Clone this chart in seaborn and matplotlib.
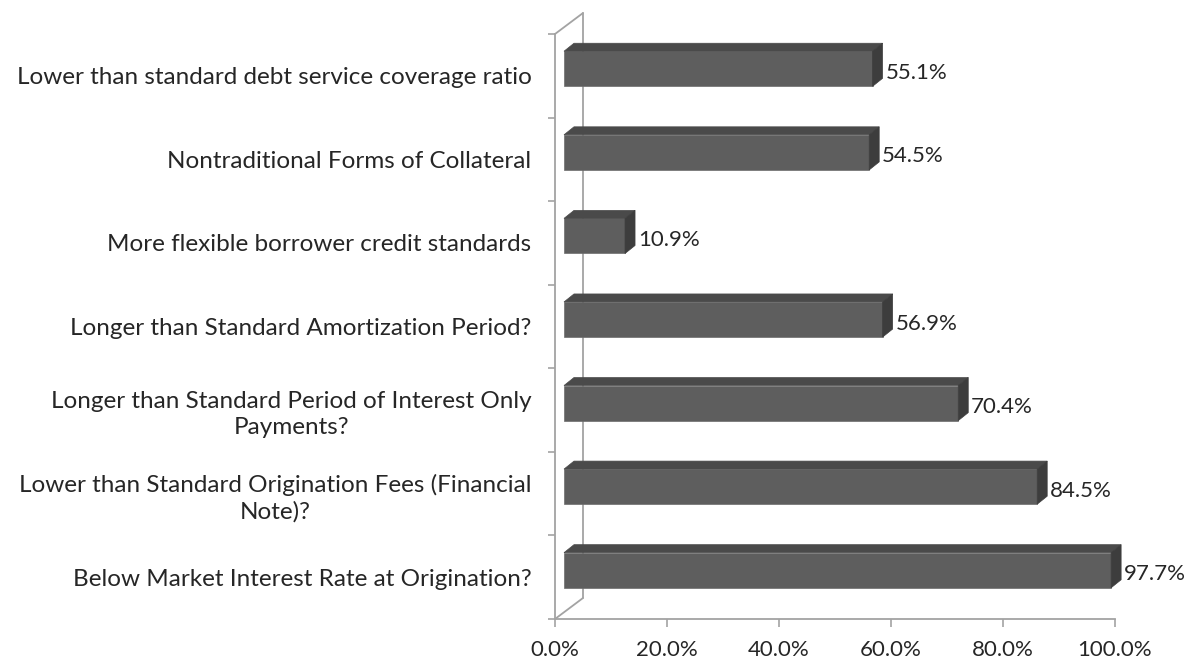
import numpy as np
import matplotlib
matplotlib.use("Agg")
import matplotlib.pyplot as plt
from matplotlib.patches import Polygon
from matplotlib.lines import Line2D
import seaborn as sns

# Survey responses: share of lenders offering each concession
categories = [
    "Lower than standard debt service coverage ratio",
    "Nontraditional Forms of Collateral",
    "More flexible borrower credit standards",
    "Longer than Standard Amortization Period?",
    "Longer than Standard Period of Interest Only\nPayments?",
    "Lower than Standard Origination Fees (Financial\nNote)?",
    "Below Market Interest Rate at Origination?",
]
values = [55.1, 54.5, 10.9, 56.9, 70.4, 84.5, 97.7]
x_ticks = [0, 20, 40, 60, 80, 100]
x_tick_labels = ["0.0%", "20.0%", "40.0%", "60.0%", "80.0%", "100.0%"]

sns.set_style("white")
plt.rcParams["font.family"] = ["Lato", "DejaVu Sans"]

FRONT = "#5e5e5e"
TOP = "#4a4a4a"
SIDE = "#3d3d3d"
WALL = "#a3a3a3"
TEXT = "#262626"
FS_CAT = 17.5
FS_NUM = 16

W, H = 1193, 664
fig = plt.figure(figsize=(W / 100, H / 100), dpi=100)
ax = fig.add_axes([555 / W, (H - 619) / H, 560 / W, 585 / H])

sns.barplot(x=values, y=categories, orient="h", color=FRONT, saturation=1,
            width=0.42, ax=ax, zorder=3)
ax.set_xlim(0, 100)
ax.set_ylim(len(categories) - 0.5, -0.5)

# pixel -> data conversion for the pseudo-3D depth
p0 = ax.transData.transform((0, 0))
p1 = ax.transData.transform((1, 1))
sx = p1[0] - p0[0]
sy = p1[1] - p0[1]
front_dx, front_dy = 9 / sx, 7 / sy      # bars sit partway into the depth
depth_dx, depth_dy = 10 / sx, 8 / sy     # bar thickness

for patch, v in zip(ax.patches, values):
    patch.set_x(patch.get_x() + front_dx)
    patch.set_y(patch.get_y() + front_dy)
    patch.set_edgecolor("#6c6c6c")
    patch.set_linewidth(0.5)
    x0 = patch.get_x()
    x1 = x0 + patch.get_width()
    y_top = patch.get_y()                 # upper edge (y axis inverted)
    y_bot = y_top + patch.get_height()
    top = Polygon([(x0, y_top), (x1, y_top), (x1 + depth_dx, y_top + depth_dy),
                   (x0 + depth_dx, y_top + depth_dy)], closed=True,
                  facecolor=TOP, edgecolor=TOP, lw=0.5, zorder=3, clip_on=False)
    side = Polygon([(x1, y_top), (x1 + depth_dx, y_top + depth_dy),
                    (x1 + depth_dx, y_bot + depth_dy), (x1, y_bot)], closed=True,
                   facecolor=SIDE, edgecolor=SIDE, lw=0.5, zorder=3, clip_on=False)
    ax.add_patch(top)
    ax.add_patch(side)
    patch.set_clip_on(False)
    ax.annotate(f"{v:.1f}%", xy=(x1 + depth_dx, (y_top + y_bot) / 2),
                xytext=(3, -4), textcoords="offset pixels",
                ha="left", va="center", fontsize=FS_NUM, color=TEXT,
                annotation_clip=False, zorder=4)

# side wall outline
wdx, wdy = 28 / 560, 21 / 585
for xs, ys in [((wdx, wdx), (wdy, 1 + wdy)),
               ((0, wdx), (1, 1 + wdy)),
               ((0, wdx), (0, wdy))]:
    ax.add_line(Line2D(xs, ys, transform=ax.transAxes, color=WALL, lw=1.3,
                       clip_on=False, zorder=1))

for side_name in ["top", "right"]:
    ax.spines[side_name].set_visible(False)
for side_name in ["left", "bottom"]:
    ax.spines[side_name].set_color(WALL)
    ax.spines[side_name].set_linewidth(1.3)

ax.set_xticks(x_ticks)
ax.set_xticklabels(x_tick_labels)
ax.set_yticks(np.arange(-0.5, len(categories), 1), minor=True)
ax.tick_params(axis="x", which="major", direction="out", length=6, width=1.2,
               color=WALL, pad=9, labelsize=FS_NUM, labelcolor=TEXT, bottom=True)
ax.tick_params(axis="y", which="major", length=0, pad=17, labelsize=FS_CAT,
               labelcolor=TEXT, left=True)
ax.tick_params(axis="y", which="minor", direction="out", length=5, width=1.2,
               color=WALL, left=True)
for lab in ax.get_yticklabels():
    lab.set_multialignment("center")
    lab.set_linespacing(1.3)
ax.set_xlabel("")
ax.set_ylabel("")
ax.grid(False)

fig.savefig("out.png", dpi=100)
